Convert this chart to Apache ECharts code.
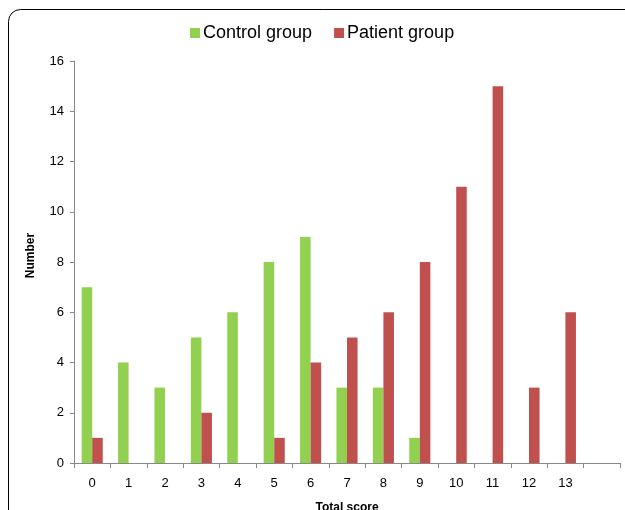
<!DOCTYPE html>
<html><head><meta charset="utf-8">
<script src="https://cdn.jsdelivr.net/npm/echarts@6/dist/echarts.min.js"></script>
<style>html,body{margin:0;padding:0;background:#fff;}#c{width:625px;height:510px;}</style>
</head><body><div id="c"></div>
<script>
const categories = ['0','1','2','3','4','5','6','7','8','9','10','11','12','13',''];
const controlGroup = [7,4,3,5,6,8,9,3,3,1,'-','-','-','-','-'];
const patientGroup = [1,'-','-',2,'-',1,4,5,6,8,11,15,3,6,'-'];
const yTicks = {min:0, max:16, interval:2};

const chart = echarts.init(document.getElementById('c'), null, {renderer:'canvas'});
const font = 'Liberation Sans, Arial, sans-serif';
chart.setOption({
  animation:false,
  backgroundColor:'#fff',
  graphic:[{type:'rect', shape:{x:8.5,y:9.5,width:640,height:540,r:12}, style:{fill:'none',stroke:'#000',lineWidth:1}, silent:true, z:-1}],
  legend:{top:24, left:190, padding:0, itemWidth:10, itemHeight:10, itemGap:22, icon:'rect',
    textStyle:{fontFamily:font, fontSize:18, color:'#000', padding:[0,0,0,-2]},
    data:['Control group','Patient group']},
  grid:{left:74, right:5, top:61, bottom:47, containLabel:false, outerBoundsMode:'none'},
  xAxis:{type:'category', data:categories, name:'Total score', nameLocation:'middle', nameGap:39,
    nameTextStyle:{fontFamily:font, fontSize:12, fontWeight:'bold', color:'#000'},
    axisLine:{lineStyle:{color:'#888'}}, axisTick:{show:true, length:5, lineStyle:{color:'#888'}},
    axisLabel:{fontFamily:font, fontSize:13, color:'#000', margin:14}},
  yAxis:{type:'value', min:yTicks.min, max:yTicks.max, interval:yTicks.interval, name:'Number', nameLocation:'middle', nameGap:37,
    nameTextStyle:{fontFamily:font, fontSize:12, fontWeight:'bold', color:'#000', padding:[0,0,0,13]},
    axisLine:{show:true, lineStyle:{color:'#888'}}, axisTick:{show:true, length:4, lineStyle:{color:'#888'}},
    splitLine:{show:false},
    axisLabel:{fontFamily:font, fontSize:13, color:'#000', margin:10}},
  series:[
    {name:'Control group', type:'bar', data:controlGroup, barWidth:'29%', barGap:'0%', itemStyle:{color:'#92D050'}},
    {name:'Patient group', type:'bar', data:patientGroup, barWidth:'29%', barGap:'0%', itemStyle:{color:'#C0504D'}}
  ]
});
</script></body></html>
